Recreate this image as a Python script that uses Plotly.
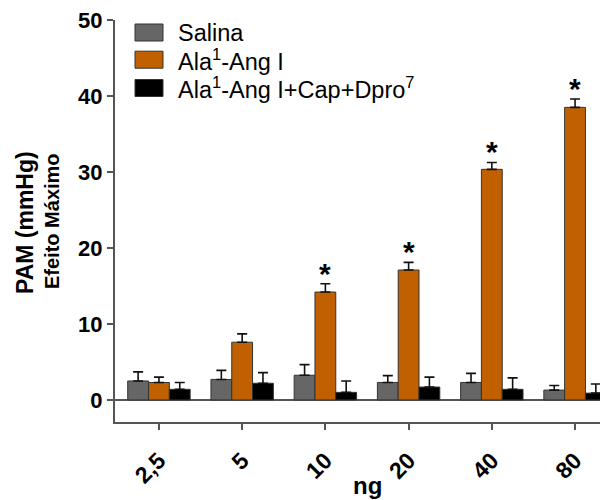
import plotly.graph_objects as go

categories = ["2,5", "5", "10", "20", "40", "80"]
series_names = ["Salina", "Ala<sup>1</sup>-Ang I", "Ala<sup>1</sup>-Ang I+Cap+Dpro<sup>7</sup>"]
salina = [2.5, 2.7, 3.25, 2.3, 2.3, 1.3]
salina_err = [1.2, 1.2, 1.4, 0.9, 1.2, 0.6]
ala = [2.3, 7.6, 14.2, 17.1, 30.35, 38.5]
ala_err = [0.7, 1.1, 1.1, 1.0, 0.9, 1.1]
cap = [1.4, 2.2, 1.0, 1.7, 1.4, 0.9]
cap_err = [0.9, 1.4, 1.5, 1.3, 1.5, 1.2]
significant = [False, False, True, True, True, True]
y_ticks = [0, 10, 20, 30, 40, 50]

colors = ["#666666", "#C06000", "#000000"]
FONT = "Liberation Sans, Arial, sans-serif"

OFF = 8  # page body margin
W, H = 608 - OFF, 500 - OFF
ML, MR, MT, MB = 115 - OFF, 0, 20 - OFF, 78
PW, PH = W - ML - MR, H - MT - MB


def px(x):
    return (x - OFF - ML) / PW


def py(y):
    return (H - MB - (y - OFF)) / PH


fig = go.Figure()
for name, vals, errs, col in zip(series_names, [salina, ala, cap], [salina_err, ala_err, cap_err], colors):
    fig.add_trace(go.Bar(
        x=categories, y=vals, name=name,
        marker=dict(color=col, line=dict(color="#333333", width=1)),
        error_y=dict(type="data", array=errs, arrayminus=[0] * len(errs), symmetric=False,
                     color="#111111", thickness=1.6, width=5),
        showlegend=False,
    ))

annotations = []
for i, (v, e, s) in enumerate(zip(ala, ala_err, significant)):
    if s:
        annotations.append(dict(x=i, y=v + e, xref="x", yref="y", text="<b>*</b>",
                                showarrow=False, yanchor="bottom", yshift=-8,
                                font=dict(size=30, color="black", family=FONT)))

# manual legend
legend_rows = [32.5, 59.7, 88]
shapes = []
for name, col, ry in zip(series_names, colors, legend_rows):
    shapes.append(dict(type="rect", xref="paper", yref="paper",
                       x0=px(135), x1=px(163), y0=py(ry + 8.5), y1=py(ry - 8.5),
                       fillcolor=col, line=dict(color="#333333", width=1)))
    annotations.append(dict(x=px(176), y=py(ry), xref="paper", yref="paper", text=name,
                            showarrow=False, xanchor="left", yanchor="middle",
                            font=dict(size=23.5, color="black", family=FONT)))

annotations.append(dict(x=px(25), y=py(223), xref="paper", yref="paper", text="<b>PAM (mmHg)</b>",
                        textangle=-90, showarrow=False, xanchor="center", yanchor="middle",
                        font=dict(size=23, color="black", family=FONT)))
annotations.append(dict(x=px(52), y=py(221), xref="paper", yref="paper", text="<b>Efeito Máximo</b>",
                        textangle=-90, showarrow=False, xanchor="center", yanchor="middle",
                        font=dict(size=20, color="black", family=FONT)))
annotations.append(dict(x=px(367), y=py(485), xref="paper", yref="paper", text="<b>ng</b>",
                        showarrow=False, xanchor="center", yanchor="middle",
                        font=dict(size=24, color="black", family=FONT)))

fig.update_layout(
    width=W, height=H,
    margin=dict(l=ML, r=MR, t=MT, b=MB, pad=0),
    plot_bgcolor="white", paper_bgcolor="white",
    barmode="group", bargap=0.25, bargroupgap=0,
    shapes=shapes, annotations=annotations,
    font=dict(family=FONT, color="black"),
)
fig.update_xaxes(
    type="category", range=[-0.528, 5.396],
    showline=True, linecolor="#555555", linewidth=2,
    ticks="outside", ticklen=6, tickwidth=2, tickcolor="#555555",
    tickangle=-45, tickfont=dict(size=23, family=FONT, weight="bold", color="black"),
    ticklabelstandoff=8,
    showgrid=False, zeroline=False,
)
fig.update_yaxes(
    range=[-2.9, 50], tickvals=y_ticks,
    showline=True, linecolor="#555555", linewidth=2,
    ticks="outside", ticklen=6, tickwidth=2, tickcolor="#555555",
    tickfont=dict(size=22, family=FONT, weight="bold", color="black"),
    ticklabeloverflow="allow",
    showgrid=False, zeroline=True, zerolinecolor="#555555", zerolinewidth=2,
)

fig.write_html("out.html")
